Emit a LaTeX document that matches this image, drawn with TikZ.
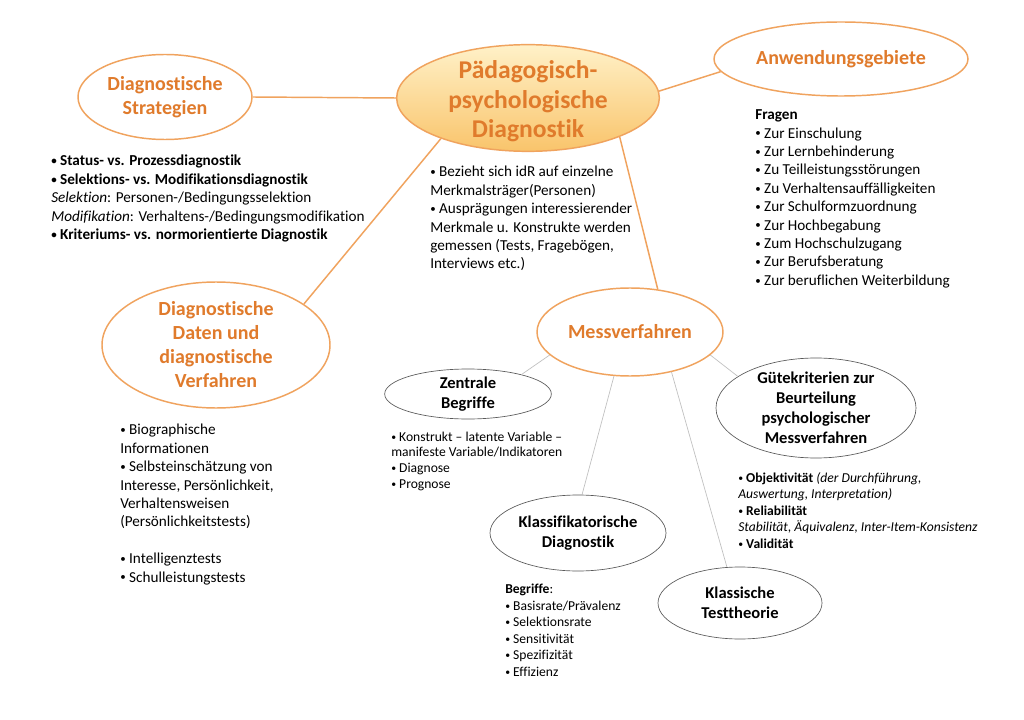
\documentclass[tikz,border=0pt]{standalone}
\usepackage{fontspec}
\setmainfont[Ligatures={TeX,NoCommon}]{Carlito}
\usepackage{graphicx}
\usepackage{tikz}
\usetikzlibrary{shapes.geometric}
\definecolor{diagorange}{HTML}{E07B2C}
\definecolor{diagline}{HTML}{F0A35E}
\definecolor{diaggray}{HTML}{BFBFBF}
\definecolor{diagdark}{HTML}{5A5A5A}
\definecolor{diagtop}{HTML}{FFF1C8}
\definecolor{diagbottom}{HTML}{F9C46B}
\newcommand{\bul}{\raisebox{0.08em}{\scalebox{0.72}{\textbullet}}}

\begin{document}
\begin{tikzpicture}[x=0.75pt, y=-0.75pt,
  orangeoval/.style={ellipse, draw=diagline, line width=1.1pt, fill=white, inner sep=0pt},
  grayoval/.style={ellipse, draw=diagdark, line width=0.5pt, fill=white, inner sep=0pt},
  orangetitle/.style={text=diagorange, font=\fontsize{15}{18}\selectfont\bfseries, align=center},
  blacktitle/.style={font=\fontsize{12.4}{15}\selectfont\bfseries, align=center},
  bodytext/.style={anchor=north west, inner sep=0pt, align=left, font=\fontsize{11.4}{13.8}\selectfont},
  smalltext/.style={anchor=north west, inner sep=0pt, align=left, font=\fontsize{10.2}{12.4}\selectfont},
  orangeline/.style={draw=diagline, line width=1.1pt},
  grayline/.style={draw=diaggray, line width=0.5pt}]
\fill[white] (0,0) rectangle (1024,720);

\node[ellipse, draw=diagline, line width=1.1pt, top color=diagtop, bottom color=diagbottom, inner sep=0pt,
  minimum width=197pt, minimum height=80pt,
  label={[text=diagorange, font=\fontsize{19.2}{22.2}\selectfont\bfseries, align=center, yshift=-2.5pt]center:{Pädagogisch-\\psychologische\\Diagnostik}}] (main) at (528,98) {};
\node[orangeoval, minimum width=190.5pt, minimum height=55.5pt,
  label={[orangetitle]center:Anwendungsgebiete}] (anw) at (841,59) {};
\node[orangeoval, minimum width=130.5pt, minimum height=63.75pt,
  label={[orangetitle]center:{Diagnostische\\Strategien}}] (strat) at (165,97) {};
\node[orangeoval, minimum width=171pt, minimum height=94.5pt,
  label={[orangetitle]center:{Diagnostische\\Daten und\\diagnostische\\Verfahren}}] (daten) at (216,345) {};
\node[orangeoval, minimum width=139.5pt, minimum height=66pt,
  label={[orangetitle]center:Messverfahren}] (mess) at (630,332) {};

\node[grayoval, minimum width=125pt, minimum height=37.5pt,
  label={[blacktitle]center:{Zentrale\\Begriffe}}] (zentral) at (468,394) {};
\node[grayoval, minimum width=150pt, minimum height=75pt,
  label={[blacktitle]center:{Gütekriterien zur\\Beurteilung\\psychologischer\\Messverfahren}}] (guete) at (816,408) {};
\node[grayoval, minimum width=132pt, minimum height=57pt,
  label={[blacktitle]center:{Klassifikatorische\\Diagnostik}}] (klassif) at (578,533) {};
\node[grayoval, minimum width=123pt, minimum height=54pt,
  label={[blacktitle]center:{Klassische\\Testtheorie}}] (klassisch) at (740,603) {};

\draw[orangeline] (strat.east) -- (main.west);
\draw[orangeline] (main.3) -- (anw.186);
\draw[orangeline] (main.205) -- (daten.25);
\draw[orangeline] (main.337) -- (mess.57);
\draw[grayline] (mess.196) -- (zentral.20);
\draw[grayline] (mess.250) -- (klassif.84);
\draw[grayline] (mess.316) -- (klassisch.110);
\draw[grayline] (mess.344) -- (guete.158);

\node[bodytext] (strattext) at (51,155) {%
\textbf{\bul{} Status- vs. Prozessdiagnostik}\\
\textbf{\bul{} Selektions- vs. Modifikationsdiagnostik}\\
\textit{Selektion}: Personen-/Bedingungsselektion\\
\textit{Modifikation}: Verhaltens-/Bedingungsmodifikation\\
\textbf{\bul{} Kriteriums- vs. normorientierte Diagnostik}};
\node[bodytext] (maintext) at (430,166) {%
\bul{} Bezieht sich idR auf einzelne\\
Merkmalsträger(Personen)\\
\bul{} Ausprägungen interessierender\\
Merkmale u. Konstrukte werden\\
gemessen (Tests, Fragebögen,\\
Interviews etc.)};
\node[bodytext] (anwtext) at (755,109.5) {%
\textbf{Fragen}\\
\bul{} Zur Einschulung\\
\bul{} Zur Lernbehinderung\\
\bul{} Zu Teilleistungsstörungen\\
\bul{} Zu Verhaltensauffälligkeiten\\
\bul{} Zur Schulformzuordnung\\
\bul{} Zur Hochbegabung\\
\bul{} Zum Hochschulzugang\\
\bul{} Zur Berufsberatung\\
\bul{} Zur beruflichen Weiterbildung};
\node[bodytext] (datentext) at (120,424) {%
\bul{} Biographische\\
Informationen\\
\bul{} Selbsteinschätzung von\\
Interesse, Persönlichkeit,\\
Verhaltensweisen\\
(Persönlichkeitstests)\\[13.8pt]
\bul{} Intelligenztests\\
\bul{} Schulleistungstests};
\node[smalltext, font=\fontsize{10.2}{11.8}\selectfont] (zentraltext) at (391,431.5) {%
\bul{} Konstrukt -- latente Variable --\\
manifeste Variable/Indikatoren\\
\bul{} Diagnose\\
\bul{} Prognose};
\node[smalltext] (guetetext) at (738,472) {%
\bul{} \textbf{Objektivität} \textit{(der Durchführung,}\\
\textit{Auswertung, Interpretation)}\\
\bul{} \textbf{Reliabilität}\\
\textit{Stabilität, Äquivalenz, Inter-Item-Konsistenz}\\
\bul{} \textbf{Validität}};
\node[smalltext] (klassiftext) at (505,584) {%
\textbf{Begriffe}:\\
\bul{} Basisrate/Prävalenz\\
\bul{} Selektionsrate\\
\bul{} Sensitivität\\
\bul{} Spezifizität\\
\bul{} Effizienz};
\end{tikzpicture}
\end{document}
